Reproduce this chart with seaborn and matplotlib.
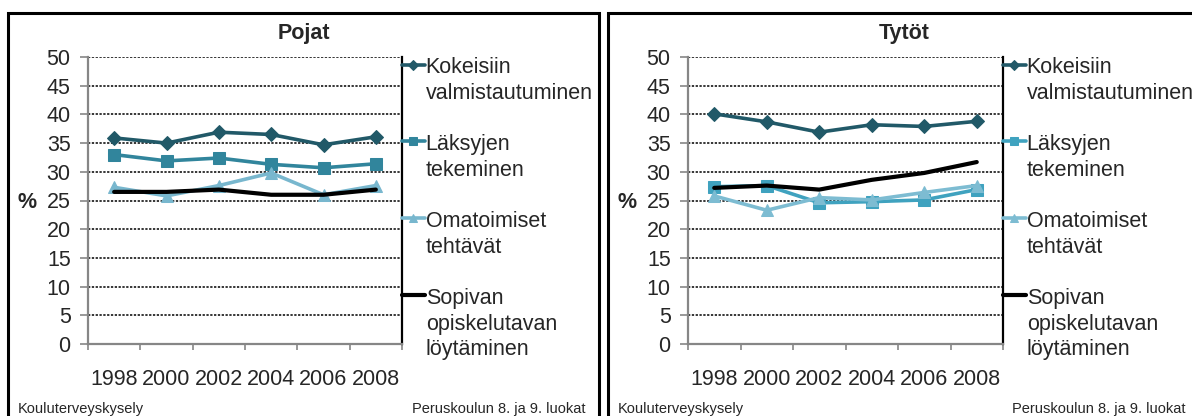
import numpy as np
import pandas as pd
import matplotlib
matplotlib.use('Agg')
import matplotlib.pyplot as plt
import seaborn as sns
from matplotlib.patches import Rectangle

sns.set_style('white')
plt.rcParams['font.family'] = ['Liberation Sans', 'DejaVu Sans']

# Data
years = ['1998', '2000', '2002', '2004', '2006', '2008']
series = ['Kokeisiin\nvalmistautuminen', 'Läksyjen\ntekeminen',
          'Omatoimiset\ntehtävät', 'Sopivan\nopiskelutavan\nlöytäminen']

pojat_kokeisiin = [35.9, 35.0, 36.9, 36.5, 34.7, 36.1]
pojat_laksyjen = [33.0, 31.9, 32.4, 31.3, 30.7, 31.4]
pojat_omatoimiset = [27.3, 25.8, 27.6, 29.8, 26.0, 27.6]
pojat_sopivan = [26.5, 26.5, 26.9, 26.0, 26.0, 26.9]

tytot_kokeisiin = [40.1, 38.7, 36.9, 38.2, 37.9, 38.8]
tytot_laksyjen = [27.4, 27.6, 24.6, 24.8, 25.1, 26.9]
tytot_omatoimiset = [25.8, 23.3, 25.5, 25.1, 26.4, 27.6]
tytot_sopivan = [27.2, 27.6, 26.9, 28.6, 29.8, 31.7]

W, H = 1192, 416
fig = plt.figure(figsize=(W / 100, H / 100), dpi=100)


def px_axes(x0, y0, x1, y1):
    return fig.add_axes([x0 / W, 1 - y1 / H, (x1 - x0) / W, (y1 - y0) / H])


def draw_panel(ax, title, values, colors, box_x0, box_x1):
    markers = ['D', 's', '^', None]
    msizes = [7, 8, 9, 0]
    pos = np.arange(len(years))
    for name, vals, col, mk, ms in zip(series, values, colors, markers, msizes):
        df = pd.DataFrame({'pos': pos, 'value': vals})
        lw = 3.0 if mk is None else 2.6
        sns.lineplot(data=df, x='pos', y='value', ax=ax, color=col, marker=mk,
                     markersize=ms, markeredgecolor=col, linewidth=lw,
                     label=name)

    ax.set_xlim(-0.5, len(years) - 0.5)
    ax.set_ylim(0, 50)
    ax.set_yticks(np.arange(0, 51, 5))
    ax.set_xticks(pos)
    ax.set_xticklabels(years)
    ax.set_xticks(np.arange(-0.5, len(years), 1.0), minor=True)
    ax.set_xlabel('')
    ax.set_ylabel('')
    ax.tick_params(axis='x', which='major', length=0, pad=18, labelsize=15.5)
    ax.tick_params(axis='x', which='minor', direction='out', length=4.5,
                   width=1.2, color='#868686', bottom=True)
    ax.tick_params(axis='y', direction='out', length=5.5, width=1.2,
                   color='#868686', pad=7, labelsize=15.5, left=True)

    for yv in np.arange(5, 51, 5):
        ax.axhline(yv, color='black', linestyle=(0, (1.5, 1)), linewidth=1.1,
                   zorder=0)

    ax.spines['top'].set_visible(False)
    ax.spines['left'].set_color('#868686')
    ax.spines['left'].set_linewidth(1.6)
    ax.spines['bottom'].set_color('#868686')
    ax.spines['bottom'].set_linewidth(1.6)
    ax.spines['right'].set_color('black')
    ax.spines['right'].set_linewidth(1.6)

    leg = ax.legend(loc='upper left', bbox_to_anchor=(1.0, 1.0), frameon=False,
                    fontsize=15.5, borderpad=0, borderaxespad=0,
                    handlelength=1.05, handletextpad=0.05, labelspacing=1.4,
                    handleheight=0.7)
    for t in leg.get_texts():
        t.set_linespacing(1.3)
    for col in leg._legend_handle_box.get_children():
        for item in col.get_children():
            item.align = 'top'
    for line in leg.get_lines():
        line.set_markersize(line.get_markersize() * 0.7)

    # panel frame and texts
    fig.patches.append(Rectangle((box_x0 / W, -0.1), (box_x1 - box_x0) / W,
                                 1 - 13 / H + 0.1, transform=fig.transFigure,
                                 fill=False, edgecolor='black', linewidth=2.2))
    fig.text((box_x0 + box_x1) / 2 / W, 1 - 34 / H, title, ha='center',
             va='center', fontsize=15.5, fontweight='bold')
    fig.text((box_x0 + 19) / W, 1 - 202 / H, '%', ha='center', va='center',
             fontsize=15.5, fontweight='bold')
    fig.text((box_x0 + 10) / W, 1 - 409 / H, 'Kouluterveyskysely', ha='left',
             va='center', fontsize=10.5)
    fig.text((box_x0 + 577) / W, 1 - 409 / H, 'Peruskoulun 8. ja 9. luokat',
             ha='right', va='center', fontsize=10.5)


ax1 = px_axes(88, 57, 402, 344)
draw_panel(ax1, 'Pojat',
           [pojat_kokeisiin, pojat_laksyjen, pojat_omatoimiset, pojat_sopivan],
           ['#215968', '#31859C', '#78B7CE', 'black'], 8, 599)

ax2 = px_axes(688, 57, 1003, 344)
draw_panel(ax2, 'Tytöt',
           [tytot_kokeisiin, tytot_laksyjen, tytot_omatoimiset, tytot_sopivan],
           ['#215968', '#3FA2BF', '#7DBCD2', 'black'], 608, 1200)

fig.savefig('out.png', dpi=100)
